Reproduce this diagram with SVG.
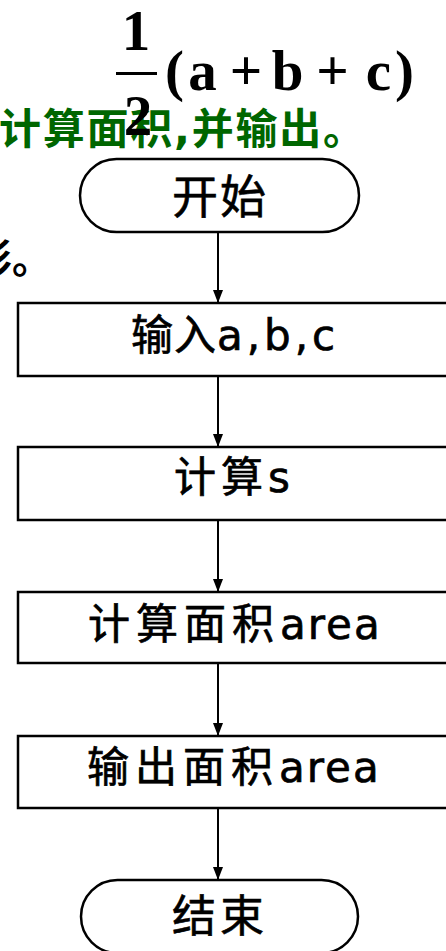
<svg xmlns="http://www.w3.org/2000/svg" width="446" height="951" viewBox="0 0 446 951">
<style>
.box{fill:#fff;stroke:#000;stroke-width:2.5}
.lbl{font-family:"DejaVu Sans","Noto Sans CJK SC",sans-serif;fill:#000;stroke:#000;stroke-width:0.7;font-size:42px}
.cjk{font-family:"Noto Sans CJK SC",sans-serif;fill:#000}
.math{font-family:"Liberation Serif","Times New Roman",serif;font-weight:bold;font-size:57px;fill:#000;text-anchor:middle}
.conn{stroke:#000;stroke-width:2;fill:none;marker-end:url(#arr)}
</style>
<defs>
<marker id="arr" markerWidth="13" markerHeight="10" refX="13" refY="5" orient="auto" markerUnits="userSpaceOnUse" viewBox="0 0 13 10">
<path d="M0,0 L13,5 L0,10 Z" fill="#000"/>
</marker>
</defs>
<rect width="446" height="951" fill="#fff"/>
<g id="background-text">
<text x="-1" y="144" font-size="42" font-weight="bold" fill="#006600" font-family="'DejaVu Sans','Noto Sans CJK SC',sans-serif" textLength="366" lengthAdjust="spacing">计算面积,并输出。</text>
<text x="-28" y="273" font-size="40" font-weight="bold" class="cjk">形。</text>
</g>
<g id="formula">
<text class="math" x="136" y="50">1</text>
<line x1="116" y1="73.5" x2="157" y2="73.5" stroke="#000" stroke-width="3"/>
<text class="math" x="138" y="135">2</text>
<text class="math" x="174.5" y="90">(</text>
<text class="math" x="202.5" y="90">a</text>
<text class="math" x="246" y="90">+</text>
<text class="math" x="287.5" y="90">b</text>
<text class="math" x="332.5" y="90">+</text>
<text class="math" x="378.5" y="90">c</text>
<text class="math" x="404.5" y="90">)</text>
</g>
<g id="connectors">
<line class="conn" x1="218" y1="232" x2="218" y2="303"/>
<line class="conn" x1="218" y1="376" x2="218" y2="447"/>
<line class="conn" x1="218" y1="520" x2="218" y2="592"/>
<line class="conn" x1="218" y1="663" x2="218" y2="736"/>
<line class="conn" x1="218" y1="808" x2="218" y2="880"/>
</g>
<g id="start">
<rect class="box" x="80" y="159" width="279" height="73" rx="36.5"/>
<text class="cjk" x="172" y="213" font-size="46" stroke="#000" stroke-width="0.6" textLength="94" lengthAdjust="spacing">开始</text>
</g>
<g id="input">
<rect class="box" x="18" y="303" width="445" height="73"/>
<text class="lbl" x="131" y="350"><tspan letter-spacing="1">输入</tspan><tspan letter-spacing="4">a,b,c</tspan></text>
</g>
<g id="calc-s">
<rect class="box" x="18" y="447" width="445" height="73"/>
<text class="lbl" x="174" y="492"><tspan letter-spacing="5">计算</tspan>s</text>
</g>
<g id="calc-area">
<rect class="box" x="18" y="592" width="445" height="71"/>
<text class="lbl" x="88" y="639"><tspan letter-spacing="6">计算面积</tspan><tspan letter-spacing="2">area</tspan></text>
</g>
<g id="output-area">
<rect class="box" x="18" y="736" width="445" height="72"/>
<text class="lbl" x="87" y="782"><tspan letter-spacing="6">输出面积</tspan><tspan letter-spacing="2">area</tspan></text>
</g>
<g id="end">
<rect class="box" x="81" y="880" width="277" height="73" rx="36.5"/>
<text class="cjk" x="172" y="932" font-size="44" stroke="#000" stroke-width="0.6" textLength="92" lengthAdjust="spacing">结束</text>
</g>
</svg>
